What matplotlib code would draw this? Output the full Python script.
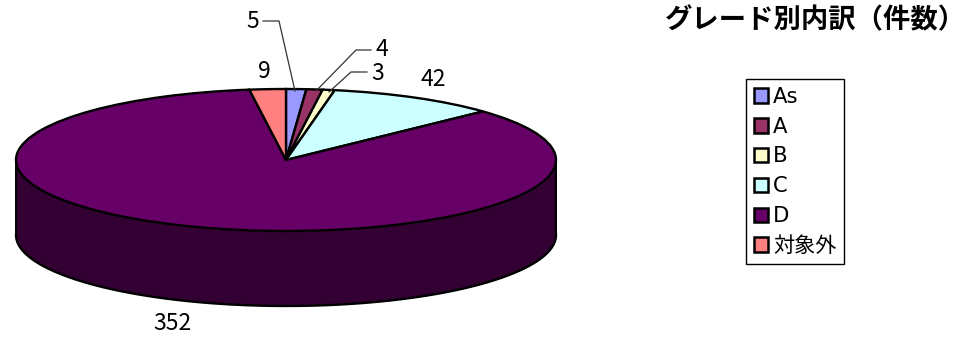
import numpy as np
import matplotlib
matplotlib.use("Agg")
import matplotlib.pyplot as plt
from matplotlib.patches import Patch

categories = ["As", "A", "B", "C", "D", "対象外"]
values = [5, 4, 3, 42, 352, 9]
colors = ["#9999FF", "#993366", "#FFFFCC", "#CCFFFF", "#660066", "#FF8080"]
side_color = "#330033"
title = "グレード別内訳（件数）"

W, H = 965, 337
plt.rcParams['font.family'] = ['Noto Sans CJK JP', 'DejaVu Sans']
fig = plt.figure(figsize=(W / 100, H / 100), dpi=100)
ax = fig.add_axes([0, 0, 1, 1])

cx, cy, rx, ry, depth = 286, 160, 270, 71, 75


def px(x, y):
    return (x - cx) / rx, (cy - y) / ry


wedges, _ = ax.pie(values, colors=colors, startangle=90, counterclock=False,
                   radius=1, wedgeprops=dict(edgecolor="black", linewidth=1.7))
ax.set_aspect("auto")
ax.set_xlim(px(0, 0)[0], px(W, 0)[0])
ax.set_ylim(px(0, H)[1], px(0, 0)[1])
ax.axis("off")

# side wall of the disc
t = np.linspace(np.pi, 2 * np.pi, 200)
d = depth / ry
xs = np.cos(t)
ax.fill_between(xs, np.sin(t), np.sin(t) - d, color=side_color, zorder=0.5, lw=0)
ax.plot(xs, np.sin(t) - d, color="black", lw=1.7, zorder=0.6)
ax.plot([-1, -1], [0, -d], color="black", lw=1.4, zorder=0.6)
ax.plot([1, 1], [0, -d], color="black", lw=1.4, zorder=0.6)

# data labels
label_px = [(253, 21), (382, 50), (378, 73), (433, 80), (172, 323), (264, 71)]
for v, (x, y) in zip(values, label_px):
    ax.text(*px(x, y), str(v), ha="center", va="center", fontsize=16.5, color="black")

# leader lines
leaders = [[(263, 21), (279, 21), (295, 91)],
           [(371, 50), (356, 50), (316, 91)],
           [(367, 72), (351, 72), (329, 92)]]
for pts in leaders:
    p = np.array([px(*q) for q in pts])
    ax.plot(p[:, 0], p[:, 1], color="#333333", lw=0.9, zorder=5)

ax.text(*px(815, 20), title, ha="center", va="center", fontsize=19.7, fontweight="bold")

handles = [Patch(facecolor=c, edgecolor="black", linewidth=1.8) for c in colors]
leg = ax.legend(handles, categories, loc="upper left",
                bbox_to_anchor=(746 / W, 1 - 79 / H), bbox_transform=fig.transFigure,
                prop=dict(family=['DejaVu Sans', 'Noto Sans CJK JP'], size=15.2),
                frameon=True, fancybox=False, edgecolor="black", framealpha=1,
                handlelength=0.7, handleheight=0.7, handletextpad=0.22,
                labelspacing=0.47, borderpad=0.36, borderaxespad=0, labelcolor="black")
leg.get_frame().set_linewidth(1.0)

fig.savefig("out.png", dpi=100)
